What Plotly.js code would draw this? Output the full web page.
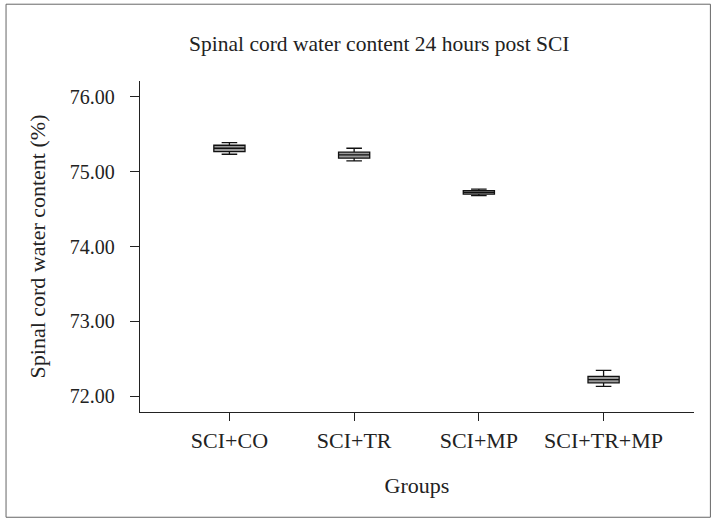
<!DOCTYPE html>
<html>
<head>
<meta charset="utf-8">
<script src="https://cdn.plot.ly/plotly-3.0.1.min.js"></script>
<style>
  body { margin: 0; background: #fff; }
  #plot { width: 717px; height: 522px; }
</style>
</head>
<body>
<div id="plot"></div>
<script>
// groups on the x axis
const groups = ["SCI+CO", "SCI+TR", "SCI+MP", "SCI+TR+MP"];

// box plot stats (water content, %)
const lowerFence = [75.232, 75.143, 74.680, 72.133];
const q1 = [75.267, 75.179, 74.699, 72.179];
const medians = [75.312, 75.223, 74.723, 72.223];
const q3 = [75.352, 75.259, 74.747, 72.267];
const upperFence = [75.387, 75.312, 74.765, 72.347];

const yTicks = [72, 73, 74, 75, 76];

const fontFamily = "Liberation Serif, Times New Roman, serif";

const trace = {
  type: "box",
  x: groups,
  q1: q1,
  median: medians,
  q3: q3,
  lowerfence: lowerFence,
  upperfence: upperFence,
  width: 0.25,
  whiskerwidth: 0.5,
  fillcolor: "#9a9a9a",
  line: { color: "#111", width: 1.3 },
  boxpoints: false,
  hoverinfo: "skip",
  showlegend: false,
};

const layout = {
  width: 717,
  height: 522,
  paper_bgcolor: "#fff",
  plot_bgcolor: "#fff",
  margin: { l: 139.5, r: 23.4, t: 81, b: 109.7 },
  font: { family: fontFamily, color: "#222", size: 20 },
  title: {
    text: "Spinal cord water content 24 hours post SCI",
    font: { size: 21.5, family: fontFamily, color: "#222" },
    x: 0.529,
    xanchor: "center",
    y: 0.916,
    yanchor: "middle",
  },
  xaxis: {
    range: [-0.717, 3.725],
    showline: true,
    linecolor: "#222",
    linewidth: 1.3,
    ticks: "outside",
    ticklen: 8,
    tickcolor: "#222",
    showgrid: false,
    zeroline: false,
    tickfont: { size: 22 },
    title: { text: "Groups", font: { size: 22 }, standoff: 26 },
  },
  yaxis: {
    range: [71.79, 76.21],
    tickvals: yTicks,
    ticktext: yTicks.map((v) => v.toFixed(2)),
    showline: true,
    linecolor: "#222",
    linewidth: 1.3,
    ticks: "outside",
    ticklen: 9,
    tickcolor: "#222",
    ticklabelstandoff: 11,
    showgrid: false,
    zeroline: false,
    tickfont: { size: 20 },
    title: { text: "Spinal cord water content (%)", font: { size: 22 }, standoff: 18 },
  },
  shapes: [
    {
      type: "rect",
      xref: "paper",
      yref: "paper",
      x0: -0.2418,
      x1: 1.0296,
      y0: -0.318,
      y1: 1.232,
      line: { color: "#666", width: 1 },
    },
  ],
};

Plotly.newPlot("plot", [trace], layout, { staticPlot: true });
</script>
</body>
</html>
